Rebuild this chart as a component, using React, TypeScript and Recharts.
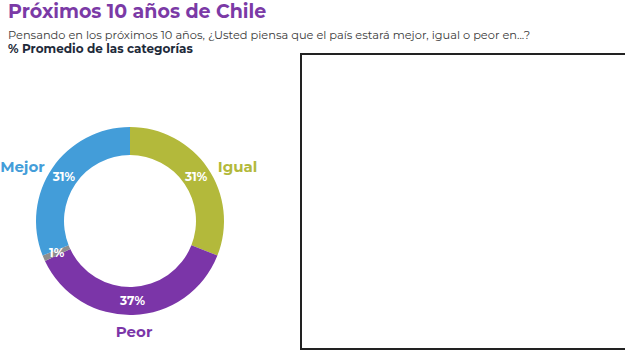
import { Cell, Pie, PieChart } from "recharts";

const categories = ["Igual", "Peor", "No sabe", "Mejor"];
const values = [31, 37, 1, 31];
const sliceColors = ["#b3b93b", "#7b35a8", "#8e8e8e", "#439dd9"];
const nameColors = ["#b3b93b", "#7b35a8", "#8e8e8e", "#439dd9"];

const data = categories.map((name, i) => ({ name, value: values[i] }));

const RADIAN = Math.PI / 180;
const FONT = "Montserrat, 'Open Sans', sans-serif";

function renderLabel(props: any) {
  const { cx, cy, midAngle, innerRadius, outerRadius, index, value } = props;
  const cos = Math.cos(-midAngle * RADIAN);
  const sin = Math.sin(-midAngle * RADIAN);
  const r = (innerRadius + outerRadius) / 2;
  const px = cx + r * cos;
  const py = cy + r * sin;
  const nx = cx + (outerRadius + 36) * cos;
  const ny = cy + (outerRadius + 12) * sin + 5;
  return (
    <g>
      <text
        x={px}
        y={py}
        fill="#fff"
        fontSize={12}
        fontWeight={700}
        fontFamily={FONT}
        textAnchor="middle"
        dominantBaseline="central"
      >
        {value}%
      </text>
      {value > 5 && (
        <text
          x={nx}
          y={ny}
          fill={nameColors[index]}
          fontSize={15}
          fontWeight={700}
          fontFamily={FONT}
          textAnchor="middle"
          dominantBaseline="central"
        >
          {categories[index]}
        </text>
      )}
    </g>
  );
}

export default function App() {
  return (
    <div
      style={{
        position: "absolute",
        left: 0,
        top: 0,
        width: 625,
        height: 358,
        background: "#fff",
        fontFamily: FONT,
        overflow: "hidden",
      }}
    >
      <div
        style={{
          position: "absolute",
          left: 8,
          top: 1,
          fontSize: 19,
          lineHeight: "22px",
          fontWeight: 700,
          color: "#7b3aa6",
        }}
      >
        Próximos 10 años de Chile
      </div>
      <div
        style={{
          position: "absolute",
          left: 8,
          top: 29,
          fontSize: 11.4,
          lineHeight: "13px",
          color: "#3a3a3a",
        }}
      >
        Pensando en los próximos 10 años, ¿Usted piensa que el país estará mejor, igual o peor en...?
      </div>
      <div
        style={{
          position: "absolute",
          left: 8,
          top: 42,
          fontSize: 12,
          lineHeight: "13px",
          fontWeight: 700,
          color: "#1e2a3a",
        }}
      >
        % Promedio de las categorías
      </div>
      <div
        style={{
          position: "absolute",
          left: 300,
          top: 53,
          width: 340,
          height: 297,
          border: "2px solid #222",
          boxSizing: "border-box",
        }}
      />
      <div style={{ position: "absolute", left: 0, top: 60 }}>
        <PieChart
          width={280}
          height={298}
          margin={{ top: 0, right: 0, bottom: 0, left: 0 }}
        >
          <Pie
            data={data}
            dataKey="value"
            nameKey="name"
            cx={130}
            cy={161}
            innerRadius={66}
            outerRadius={94}
            startAngle={90}
            endAngle={-270}
            stroke="none"
            label={renderLabel}
            labelLine={false}
            isAnimationActive={false}
          >
            {data.map((d, i) => (
              <Cell key={d.name} fill={sliceColors[i]} />
            ))}
          </Pie>
        </PieChart>
      </div>
    </div>
  );
}
